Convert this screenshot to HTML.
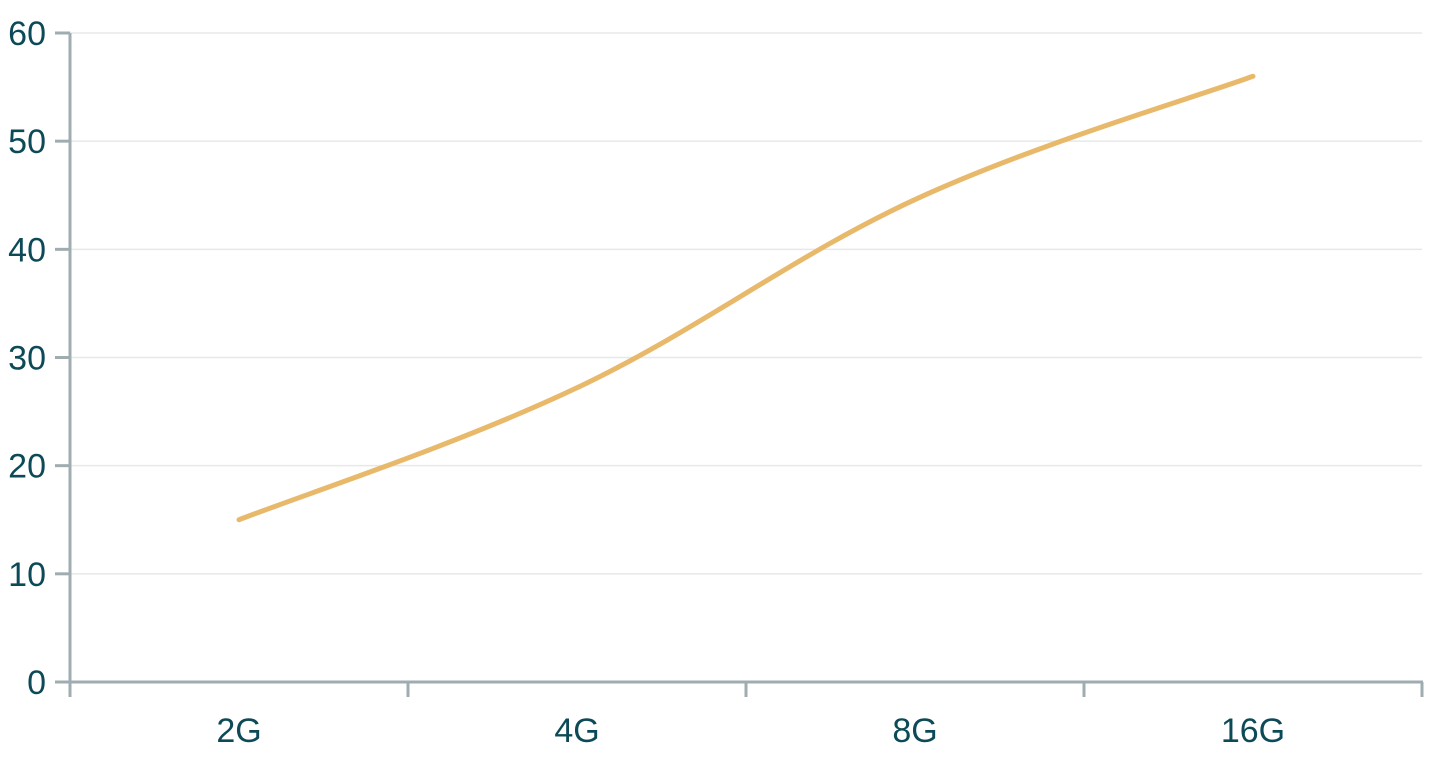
<!DOCTYPE html>
<html><head><meta charset="utf-8"><style>
html,body{margin:0;padding:0;background:#fff;}
svg text{font-family:"Liberation Sans","DejaVu Sans",sans-serif;fill:#0d4a58;font-size:34px;}
</style></head><body>
<svg id="chart" width="1434" height="758" xmlns="http://www.w3.org/2000/svg"></svg>
<script>
const categories = ["2G","4G","8G","16G"];
const seriesValues = [15.0, 27.2, 44.6, 56.0];
const yTicks = [0,10,20,30,40,50,60];

const NS="http://www.w3.org/2000/svg";
const svg=document.getElementById('chart');
const x0=70,x1=1422,y0=682,y1=33,yMax=60;
const band=(x1-x0)/categories.length;
const xs=i=>x0+band*(i+0.5);
const ys=v=>y0-(v/yMax)*(y0-y1);
function mk(t,a){const e=document.createElementNS(NS,t);for(const k in a)e.setAttribute(k,a[k]);svg.appendChild(e);return e;}

yTicks.forEach(v=>{
  if(v>0){const g=mk('line',{x1:x0,x2:x1,y1:ys(v),y2:ys(v),stroke:'#e6e9ea','stroke-width':1.5});
  
  }
  const t=mk('line',{x1:55,x2:x0,y1:ys(v),y2:ys(v),stroke:'#9fadb1','stroke-width':3});
  
  
  const l=mk('text',{x:46,y:ys(v)+12,'text-anchor':'end','font-size':34});l.textContent=v;
  
  
});
const ya=mk('line',{x1:x0,x2:x0,y1:y1,y2:697,stroke:'#9fadb1','stroke-width':3});


const xa=mk('line',{x1:x0,x2:x1+1,y1:y0,y2:y0,stroke:'#9fadb1','stroke-width':3});


for(let i=0;i<=categories.length;i++){
  const tx=x0+band*i;
  const t=mk('line',{x1:tx,x2:tx,y1:y0,y2:697,stroke:'#9fadb1','stroke-width':3});
  
  
}
categories.forEach((c,i)=>{
  const l=mk('text',{x:xs(i),y:742,'text-anchor':'middle','font-size':34});l.textContent=c;
  
  
});
const pts=seriesValues.map((v,i)=>[xs(i),ys(v)]);
let d='M'+pts[0][0]+','+pts[0][1];
const k=0.18;
for(let i=0;i<pts.length-1;i++){
  const p0=pts[Math.max(0,i-1)],p1=pts[i],p2=pts[i+1],p3=pts[Math.min(pts.length-1,i+2)];
  const c1=[p1[0]+(p2[0]-p0[0])*k,p1[1]+(p2[1]-p0[1])*k];
  const c2=[p2[0]-(p3[0]-p1[0])*k,p2[1]-(p3[1]-p1[1])*k];
  d+=' C'+c1+' '+c2+' '+p2;
}
const line=mk('path',{d:d,fill:'none',stroke:'#e8b96a','stroke-width':5,'stroke-linecap':'round'});


</script>
</body></html>
